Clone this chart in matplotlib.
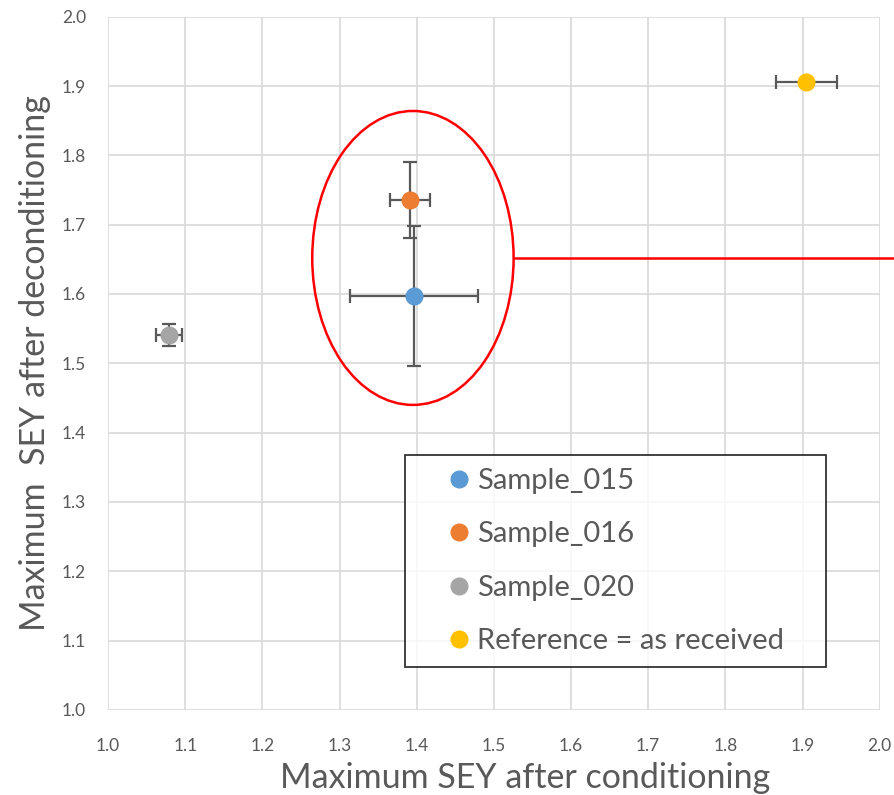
import matplotlib.pyplot as plt
from matplotlib.patches import Ellipse
from matplotlib.lines import Line2D

plt.rcParams['font.family'] = ['Lato', 'DejaVu Sans']

labels = ['Sample_015', 'Sample_016', 'Sample_020', 'Reference = as received']
colors = ['#5b9bd5', '#ed7d31', '#a5a5a5', '#ffc000']
x_vals = [1.396, 1.391, 1.079, 1.905]
y_vals = [1.597, 1.736, 1.541, 1.906]
x_err = [0.083, 0.026, 0.017, 0.040]
y_err = [0.101, 0.055, 0.016, 0.0]

fig = plt.figure(figsize=(8.94, 7.95), dpi=100)
ax = fig.add_axes([0.121, 0.107, 0.863, 0.872])

grey = '#595959'
for x, y, xe, ye, c, lab in zip(x_vals, y_vals, x_err, y_err, colors, labels):
    ax.errorbar(x, y, xerr=xe, yerr=ye if ye > 0 else None, fmt='none',
                ecolor=grey, elinewidth=1.6, capsize=5, capthick=1.6, zorder=3)
    ax.plot(x, y, 'o', color=c, markersize=12, zorder=4, label=lab)

# red ellipse around the two samples
ell = Ellipse((1.395, 1.652), 0.261, 0.424, fill=False, edgecolor='red', linewidth=1.8, zorder=5)
ax.add_patch(ell)
ax.plot([1.395 + 0.261 / 2, 2.03], [1.652, 1.652], color='red', linewidth=1.8,
        clip_on=False, zorder=5)

ax.set_xlim(1.0, 2.0)
ax.set_ylim(1.0, 2.0)
ticks = [1.0 + 0.1 * i for i in range(11)]
ax.set_xticks(ticks)
ax.set_yticks(ticks)
ax.set_xticklabels([f'{t:.1f}' for t in ticks])
ax.set_yticklabels([f'{t:.1f}' for t in ticks])
ax.tick_params(axis='x', length=0, labelsize=12.5, colors=grey, pad=20)
ax.tick_params(axis='y', length=0, labelsize=12.5, colors=grey, pad=16)
ax.grid(True, color='#d9d9d9', linewidth=1.2)
ax.set_axisbelow(True)
for s in ax.spines.values():
    s.set_visible(False)

ax.set_xlabel('Maximum SEY after conditioning', fontsize=24.5, color=grey, labelpad=6)
ax.xaxis.label.set_x(0.54)
ax.set_ylabel('Maximum  SEY after deconditioning', fontsize=24.5, color=grey, labelpad=8)

handles = [Line2D([], [], marker='o', linestyle='none', color=c, markersize=12) for c in colors]
leg = ax.legend(handles, labels, loc='upper left', bbox_to_anchor=(0.385, 0.0606, 0.545, 0.3074),
                mode='expand', fontsize=21, frameon=True, fancybox=False, edgecolor='black',
                handletextpad=-0.8, labelspacing=0.94, borderpad=0.45, handlelength=2.8,
                labelcolor=grey, borderaxespad=0)
leg.get_frame().set_linewidth(1.3)

fig.savefig('out.png', dpi=100)
